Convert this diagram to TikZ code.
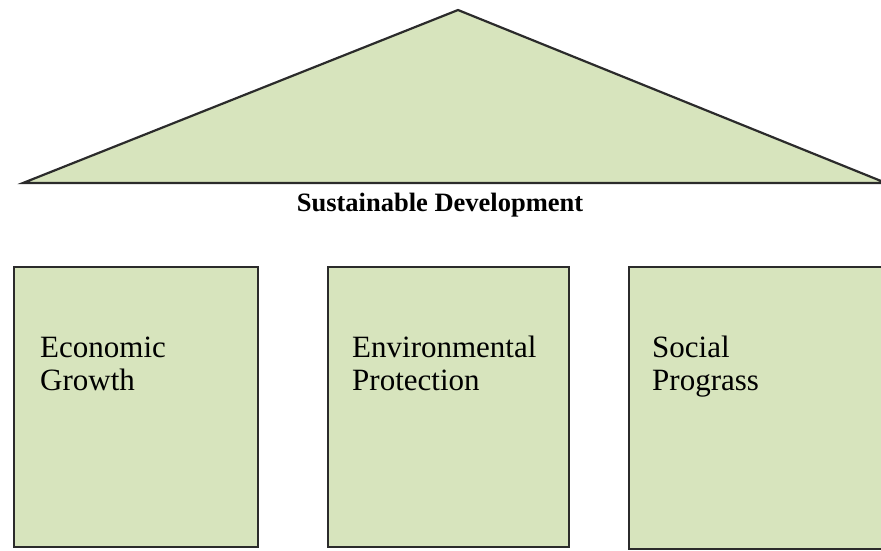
\documentclass[tikz,border=0pt]{standalone}
\usepackage{fontspec}
\setmainfont{Liberation Serif}
\usetikzlibrary{positioning}
\definecolor{sdgreen}{HTML}{D7E4BD}
\definecolor{sdline}{HTML}{2B2B2B}
\begin{document}
\begin{tikzpicture}[x=1pt,y=-1pt,
	pillar/.style={draw=sdline,line width=2.2pt,fill=sdgreen,anchor=north west,
	               minimum height=280pt,inner sep=0pt},
	pillartext/.style={anchor=north west,align=left,inner sep=0pt,
	               font=\fontsize{31}{33}\selectfont}]
\clip (0,0) rectangle (881,550);

% roof
\coordinate (apex) at (458,10);
\coordinate (roofl) at (23,183);
\coordinate (roofr) at (886,183);
\filldraw[fill=sdgreen,draw=sdline,line width=2.2pt,line join=miter] (roofl) -- (apex) -- (roofr) -- cycle;
\node[anchor=base,font=\fontsize{26.5}{30}\selectfont\bfseries] (title) at (440,211) {Sustainable Development};

% pillars
\node[pillar,minimum width=244pt] (eco) at (13,266) {};
\node[pillar,minimum width=241pt] (env) at (327,266) {};
\node[pillar,minimum width=258pt,minimum height=282pt] (soc) at (628,266) {};

\node[pillartext,below right=124pt and 27pt of eco.north west,anchor=base west] (ecot) {Economic\\Growth};
\node[pillartext,below right=124pt and 25pt of env.north west,anchor=base west] (envt) {Environmental\\Protection};
\node[pillartext,below right=124pt and 24pt of soc.north west,anchor=base west] (soct) {Social\\Prograss};
\end{tikzpicture}
\end{document}
